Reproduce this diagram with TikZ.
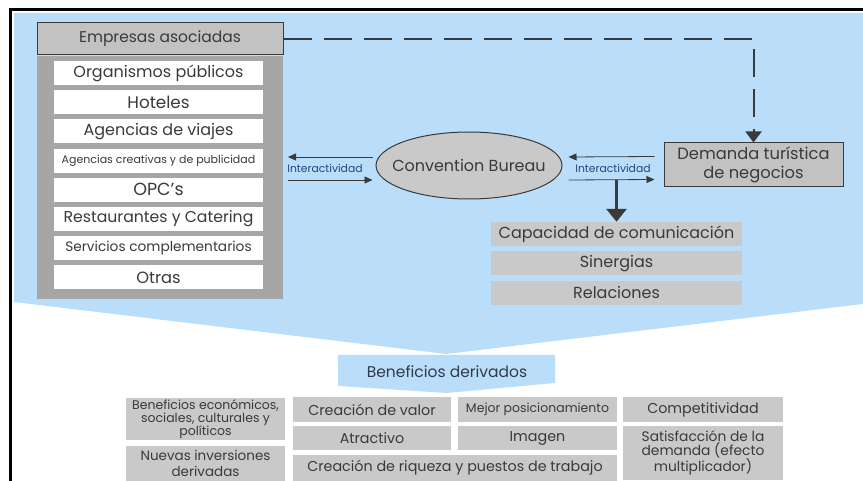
\documentclass[tikz,border=0pt]{standalone}
\usepackage{fontspec}
\setmainfont{Poppins}
\usepackage{xcolor}
\usepackage{tikz}
\usetikzlibrary{shapes.geometric, arrows.meta, positioning}
\definecolor{celeste}{HTML}{BADEFA}
\definecolor{grisclaro}{HTML}{C9C9C9}
\definecolor{grismedio}{HTML}{C2C2C2}
\definecolor{grisoscuro}{HTML}{A6A6A6}
\definecolor{tinta}{HTML}{3A3A3A}
\definecolor{tintaazul}{HTML}{2F3B4C}
\definecolor{azultxt}{HTML}{24467A}

\begin{document}
\begin{tikzpicture}[x=1pt, y=-1pt,
  every node/.style={text=tinta, inner sep=0pt, align=center},
  grande/.style={font=\fontsize{16}{19}\selectfont},
  normal/.style={font=\fontsize{14.3}{17}\selectfont},
  mediana/.style={font=\fontsize{12.5}{14}\selectfont},
  chica/.style={font=\fontsize{12.5}{13}\selectfont},
  caja/.style={fill=grisclaro, minimum height=24pt},
  borde/.style={draw=tinta, line width=1pt},
  fina/.style={draw=tinta, line width=0.8pt, -{Triangle[width=7pt,length=8pt]}},
  gruesa/.style={draw=tinta, line width=3pt, -{Triangle[width=20pt,length=13pt]}},
  discont/.style={draw=tinta, line width=2pt, dash pattern=on 28pt off 12pt, -{Triangle[width=16pt,length=11pt]}},
  inter/.style={text=azultxt, font=\fontsize{10.8}{12}\selectfont}]
\useasboundingbox (0,0) rectangle (863,481);
\fill[celeste] (14,13) -- (863,13) -- (863,304) -- (446,354) -- (14,302) -- cycle;
\draw[line width=3pt] (10,481) -- (10,9.5) -- (863,9.5);

\node[borde, fill=grismedio, minimum width=246pt, minimum height=32pt, font=\fontsize{15.5}{18}\selectfont] (emp) at (160,39) {Empresas asociadas};
\node[fill=grisoscuro, minimum width=246pt, minimum height=243pt, anchor=north] (col) at (emp.south) {};
\foreach \txt/\tam [count=\i from 0] in {Organismos públicos/16, Hoteles/16.8, Agencias de viajes/16,
    Agencias creativas y de publicidad/11, OPC’s/17.5, Restaurantes y Catering/15.7,
    Servicios complementarios/13.7, Otras/16.3}
  \node[fill=white, minimum width=209pt, minimum height=24pt, font=\fontsize{\tam}{18}\selectfont]
    (org\i) at (158.5,73+29.2*\i) {\txt};

\node[ellipse, borde, fill=grisclaro, minimum width=186pt, minimum height=67pt, grande] (cb) at (469,165.5) {\makebox[0pt]{Convention Bureau}};
\node[borde, fill=grismedio, minimum width=179pt, minimum height=44pt, font=\fontsize{16.3}{19}\selectfont] (dem) at (753.5,165) {Demanda turística\\de negocios};

\coordinate (iz) at (288,165.5);
\draw[fina] ([shift={(-3,-8.5)}]cb.west) -- ([shift={(0,-8.5)}]iz);
\draw[fina] ([shift={(0,14.5)}]iz) -- ([shift={(-3,14.5)}]cb.west);
\node[inter] (i1) at (325,168.5) {Interactividad};
\draw[fina] ([shift={(-9,-8.5)}]dem.west) -- ([shift={(6,-8.5)}]cb.east);
\draw[fina] ([shift={(6,14.5)}]cb.east) -- ([shift={(-9,14.5)}]dem.west);
\node[inter] (i2) at (613,168.5) {Interactividad};

\node[caja, grande, minimum width=251pt] (cap) at (616.5,234) {Capacidad de comunicación};
\node[caja, grande, minimum width=251pt, below=5pt of cap] (sin) {Sinergias};
\node[caja, grande, minimum width=251pt, below=5pt of sin] (rel) {Relaciones};
\coordinate (ab) at (616.5,180);
\draw[gruesa] (ab) -- (cap.north);

\draw[discont] (emp.east) -| (dem.north);

\fill[celeste] (338,355) -- (555,355) -- (555,383) -- (447,393) -- (338,386) -- cycle;
\node[text=tintaazul, font=\fontsize{15.5}{18}\selectfont] (bd) at (447,372) {Beneficios derivados};

\node[caja, chica, minimum width=159pt, minimum height=42pt] (b1) at (205.5,419) {Beneficios económicos,\\sociales, culturales y\\políticos};
\node[caja, font=\fontsize{13.5}{16}\selectfont, minimum width=159pt, minimum height=35pt] (b2) at (205.5,463.5) {Nuevas inversiones\\derivadas};
\node[caja, normal, minimum width=158pt, minimum height=25pt] (c1) at (372,409.5) {Creación de valor};
\node[caja, normal, minimum width=158pt] (c2) at (372,438) {Atractivo};
\node[caja, mediana, minimum width=159pt, minimum height=25pt] (m1) at (537.5,409.5) {Mejor posicionamiento};
\node[caja, normal, minimum width=159pt] (m2) at (537.5,438) {Imagen};
\node[caja, normal, minimum width=324pt, minimum height=26pt] (cr) at (455,468) {Creación de riqueza y puestos de trabajo};
\node[caja, normal, minimum width=160pt, minimum height=25pt] (k1) at (703,409.5) {Competitividad};
\node[caja, font=\fontsize{13.8}{14}\selectfont, minimum width=160pt, minimum height=54pt] (k2) at (703,453) {Satisfacción de la\\demanda (efecto\\multiplicador)};
\end{tikzpicture}
\end{document}
